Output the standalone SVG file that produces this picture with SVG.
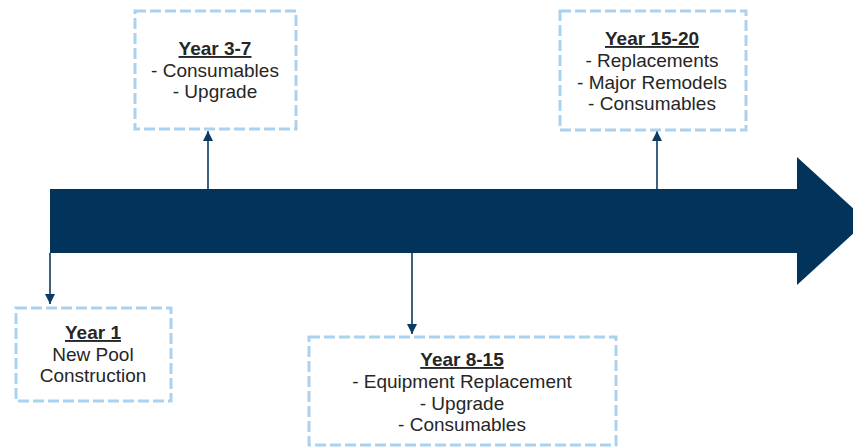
<svg xmlns="http://www.w3.org/2000/svg" width="853" height="448" viewBox="0 0 853 448">
  <defs>
    <style>
      .box { fill: #ffffff; stroke: #a9d2f1; stroke-width: 3; stroke-dasharray: 11 4; }
      .lbl { font-family: "Liberation Sans", Arial, sans-serif; font-size: 19px; fill: #262626; text-anchor: middle; }
      .hd { font-weight: bold; text-decoration: underline; }
      .link { stroke: #0b3a62; stroke-width: 1.6; fill: none; }
    </style>
    <marker id="tip" viewBox="0 0 10 10" refX="10" refY="5" markerWidth="10" markerHeight="10" markerUnits="userSpaceOnUse" orient="auto">
      <path d="M0,0 L10,5 L0,10 Z" fill="#0b3a62"/>
    </marker>
  </defs>

  <rect width="853" height="448" fill="#ffffff"/>

  <!-- timeline arrow -->
  <polygon id="timeline" points="50,189 797,189 797,157 867,221 797,285 797,253 50,253" fill="#02345b"/>

  <!-- connectors from the timeline to the milestone boxes -->
  <g id="connectors">
    <line class="link" x1="50" y1="253" x2="50" y2="304" marker-end="url(#tip)"/>
    <line class="link" x1="208" y1="189" x2="208" y2="131" marker-end="url(#tip)"/>
    <line class="link" x1="412" y1="253" x2="412" y2="334" marker-end="url(#tip)"/>
    <line class="link" x1="657" y1="189" x2="657" y2="131" marker-end="url(#tip)"/>
  </g>

  <g id="year1">
    <rect class="box" x="16" y="308" width="155" height="93"/>
    <text class="lbl" x="93" y="339"><tspan class="hd">Year 1</tspan><tspan x="93" dy="21.5">New Pool</tspan><tspan x="93" dy="21.5">Construction</tspan></text>
  </g>

  <g id="year3-7">
    <rect class="box" x="135" y="11" width="161" height="118"/>
    <text class="lbl" x="215" y="55"><tspan class="hd">Year 3-7</tspan><tspan x="215" dy="21.5">- Consumables</tspan><tspan x="215" dy="21.5">- Upgrade</tspan></text>
  </g>

  <g id="year8-15">
    <rect class="box" x="309" y="337" width="307" height="108"/>
    <text class="lbl" x="462" y="366"><tspan class="hd">Year 8-15</tspan><tspan x="462" dy="21.8">- Equipment Replacement</tspan><tspan x="462" dy="21.8">- Upgrade</tspan><tspan x="462" dy="21.8">- Consumables</tspan></text>
  </g>

  <g id="year15-20">
    <rect class="box" x="560" y="11" width="186" height="119"/>
    <text class="lbl" x="652" y="45"><tspan class="hd">Year 15-20</tspan><tspan x="652" dy="21.8">- Replacements</tspan><tspan x="652" dy="21.8">- Major Remodels</tspan><tspan x="652" dy="21.8">- Consumables</tspan></text>
  </g>
</svg>
